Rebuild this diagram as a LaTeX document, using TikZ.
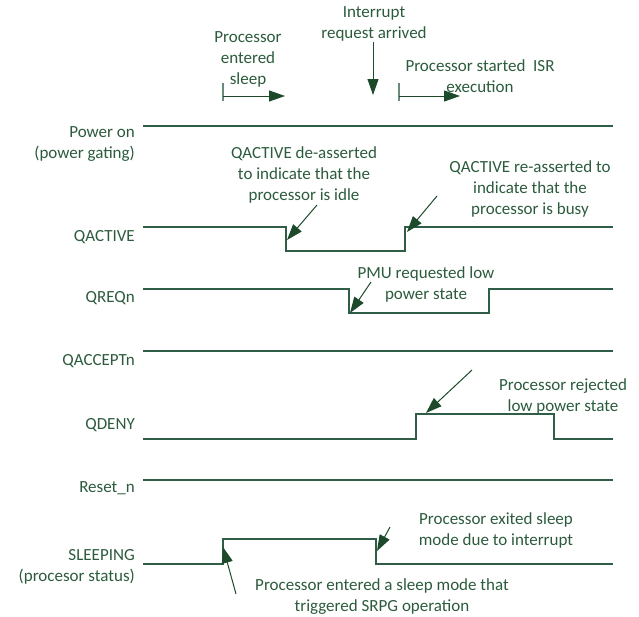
\documentclass[tikz,border=0pt]{standalone}
\usepackage{fontspec}
\setmainfont{Carlito}
\usetikzlibrary{arrows.meta}
\definecolor{sig}{HTML}{2F5D46}
\definecolor{arr}{HTML}{1C4A2B}
\definecolor{txt}{HTML}{2B5B3C}
\definecolor{tick}{HTML}{6B8A78}
\tikzset{
  lbl/.style={inner sep=0pt, text=txt, font=\fontsize{17}{21}\selectfont, anchor=base east, align=right},
  note/.style={inner sep=0pt, text=txt, font=\fontsize{17}{21}\selectfont, anchor=base, align=center},
  wave/.style={draw=sig, line width=1.3pt},
  pointer/.style={draw=arr, line width=1pt, -{Triangle[length=16pt,width=11pt]}},
  tickmark/.style={draw=tick, line width=1.3pt}
}
\begin{document}
\begin{tikzpicture}[x=1pt,y=-1pt]
\useasboundingbox (0,0) rectangle (639,616);
% signal labels (anchor = baseline of last line)
\node[lbl] (lpow) at (135,158) {Power on\\(power gating)};
\node[lbl] (lqa) at (135,241) {QACTIVE};
\node[lbl] (lqr) at (135,302) {QREQn};
\node[lbl] (lqacc) at (135,365) {QACCEPTn};
\node[lbl] (lqd) at (135,429) {QDENY};
\node[lbl] (lrst) at (135,492) {Reset\_n};
\node[lbl] (lslp) at (135,581) {SLEEPING\\(procesor status)};
% waveforms
\draw[wave] (143,126) -- (613,126);
\draw[wave] (143,227) -- (286,227) -- (286,251) -- (405,251) -- (405,227) -- (613,227);
\draw[wave] (143,289) -- (349,289) -- (349,313) -- (489,313) -- (489,289) -- (613,289);
\draw[wave] (143,351) -- (613,351);
\draw[wave] (143,439) -- (416,439) -- (416,414) -- (554,414) -- (554,439) -- (613,439);
\draw[wave] (143,480) -- (613,480);
\draw[wave] (143,564) -- (223,564) -- (223,539) -- (376,539) -- (376,564) -- (613,564);
% top annotations
\node[note] (nsleep) at (248,84) {Processor\\entered\\sleep};
\node[note] (nirq) at (374,38) {Interrupt\\request arrived};
\node[note] (nisr) at (480,92) {Processor started~~ISR\\execution};
\coordinate (t1a) at (223,83); \coordinate (t1b) at (223,101);
\coordinate (a1s) at (223,96); \coordinate (a1e) at (285,96);
\draw[tickmark] (t1a) -- (t1b);
\draw[pointer] (a1s) -- (a1e);
\coordinate (a2s) at (373,42); \coordinate (a2e) at (373,95);
\draw[pointer] (a2s) -- (a2e);
\coordinate (t3a) at (399,83); \coordinate (t3b) at (399,101);
\coordinate (a3s) at (399,96); \coordinate (a3e) at (460,96);
\draw[tickmark] (t3a) -- (t3b);
\draw[pointer] (a3s) -- (a3e);
% waveform annotations
\node[note] (ndeas) at (304,200) {QACTIVE de-asserted\\to indicate that the\\processor is idle};
\coordinate (b1s) at (317,205); \coordinate (b1e) at (287,240);
\draw[pointer] (b1s) -- (b1e);
\node[note] (nreas) at (530,214) {QACTIVE re-asserted to\\indicate that the\\processor is busy};
\coordinate (b2s) at (437,196); \coordinate (b2e) at (407,232);
\draw[pointer] (b2s) -- (b2e);
\node[note] (npmu) at (426,299) {PMU requested low\\power state};
\coordinate (b3s) at (371,282); \coordinate (b3e) at (350,313);
\draw[pointer] (b3s) -- (b3e);
\node[note] (nrej) at (563,411) {Processor rejected\\low power state};
\coordinate (b4s) at (472,370); \coordinate (b4e) at (426,413);
\draw[pointer] (b4s) -- (b4e);
\node[note] (nexit) at (496,545) {Processor exited sleep\\mode due to interrupt};
\coordinate (b5s) at (390,527); \coordinate (b5e) at (377,551);
\draw[pointer] (b5s) -- (b5e);
\node[note] (nsrpg) at (382,611) {Processor entered a sleep mode that\\triggered SRPG operation};
\coordinate (b6s) at (236,594); \coordinate (b6e) at (223,547);
\draw[pointer] (b6s) -- (b6e);
\end{tikzpicture}
\end{document}
